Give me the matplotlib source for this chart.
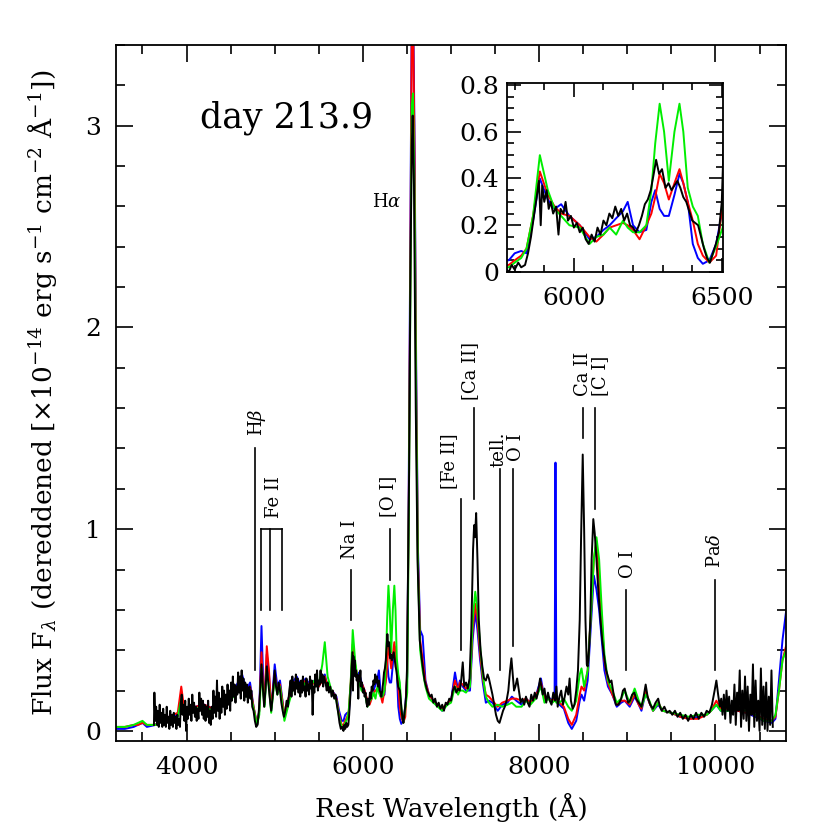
import numpy as np
import matplotlib
matplotlib.use('Agg')
import matplotlib.pyplot as plt
from matplotlib.ticker import MultipleLocator, FuncFormatter

plt.rcParams['font.family'] = ['DejaVu Serif']
plt.rcParams['mathtext.fontset'] = 'dejavuserif'

# ---------------- data ----------------
wl_col = [3200, 3300, 3400, 3450, 3500, 3550, 3650, 3700, 3800, 3900,
          3940, 3970, 4000, 4100, 4200, 4300, 4400, 4500, 4560, 4630,
          4680, 4720, 4760, 4800, 4825, 4850, 4870, 4885, 4910, 4935,
          4960, 5000, 5030, 5060, 5110, 5150, 5200, 5250, 5300, 5350,
          5400, 5450, 5500, 5540, 5568, 5600, 5650, 5700, 5730, 5760,
          5780, 5800, 5822, 5840, 5862, 5885, 5912, 5935, 5957, 5985,
          6020, 6053, 6076, 6100, 6121, 6143, 6166, 6182, 6200, 6222,
          6245, 6262, 6275, 6290, 6305, 6321, 6340, 6357, 6370, 6385,
          6402, 6419, 6436, 6458, 6481, 6503, 6520, 6540, 6555, 6568,
          6585, 6605, 6625, 6650, 6678, 6710, 6750, 6800, 6850, 6900,
          6960, 7000, 7045, 7080, 7100, 7133, 7170, 7215, 7245, 7275,
          7300, 7330, 7360, 7395, 7430, 7470, 7530, 7580, 7640, 7690,
          7740, 7800, 7850, 7900, 7960, 8020, 8060, 8100, 8150, 8175,
          8185, 8195, 8230, 8280, 8330, 8370, 8420, 8460, 8480, 8510,
          8550, 8590, 8620, 8650, 8680, 8710, 8740, 8780, 8830, 8880,
          8930, 8970, 9027, 9083, 9130, 9160, 9208, 9250, 9292, 9350,
          9400, 9500, 9600, 9700, 9800, 9900, 9950, 10010, 10060, 10150,
          10250, 10350, 10450, 10550, 10640, 10680, 10720, 10760, 10800, 10850]

blue_fl = [.01, .01, .02, .03, .04, .02, .03, .06, .07, .08,
           .14, .10, .08, .12, .13, .11, .15, .17, .22, .28,
           .20, .24, .12, .03, .10, .52, .25, .13, .38, .28,
           .10, .33, .22, .25, .07, .15, .24, .27, .22, .26,
           .23, .25, .22, .26, .28, .22, .20, .17, .10, .05,
           .05, .08, .09, .08, .22, .40, .31, .27, .29, .24,
           .20, .14, .15, .18, .20, .23, .26, .30, .20, .17,
           .18, .30, .35, .27, .24, .24, .33, .42, .38, .30,
           .12, .06, .035, .05, .12, .27, 1.2, 2.6, 3.6, 3.7,
           3.0, 1.8, .9, .5, .47, .25, .18, .15, .13, .10,
           .14, .15, .29, .20, .25, .22, .20, .20, .45, .59,
           .50, .35, .24, .14, .15, .14, .10, .13, .14, .17,
           .15, .13, .16, .14, .17, .26, .16, .17, .15, .18,
           1.33, .17, .13, .11, .04, .01, .05, .15, .18, .15,
           .25, .55, .77, .70, .60, .45, .30, .22, .18, .12,
           .14, .15, .12, .17, .13, .10, .19, .14, .10, .13,
           .10, .09, .07, .06, .07, .08, .10, .13, .10, .10,
           .10, .09, .07, .05, .04, .06, .25, .45, .59, .60]

red_fl = [.02, .02, .03, .03, .04, .03, .03, .06, .07, .09,
          .22, .12, .09, .12, .13, .11, .15, .17, .21, .25,
          .20, .22, .12, .03, .10, .39, .20, .14, .42, .30,
          .11, .28, .20, .23, .08, .15, .23, .25, .22, .25,
          .22, .24, .22, .25, .27, .22, .20, .16, .08, .03,
          .03, .05, .07, .10, .24, .43, .33, .28, .25, .24,
          .20, .15, .13, .16, .19, .20, .21, .20, .18, .14,
          .20, .25, .32, .42, .38, .31, .38, .44, .38, .30,
          .22, .12, .07, .04, .07, .29, 1.1, 2.4, 3.5, 3.6,
          2.9, 1.7, .85, .45, .35, .24, .18, .15, .13, .11,
          .14, .15, .25, .20, .24, .23, .21, .22, .50, .63,
          .55, .38, .26, .18, .17, .15, .12, .14, .15, .16,
          .16, .15, .16, .14, .17, .24, .16, .16, .15, .16,
          .17, .16, .14, .12, .06, .03, .08, .18, .22, .20,
          .30, .60, .85, .94, .75, .55, .35, .24, .18, .13,
          .15, .15, .13, .18, .13, .11, .20, .14, .10, .14,
          .10, .09, .07, .06, .06, .08, .10, .15, .11, .11,
          .10, .09, .08, .06, .05, .07, .20, .35, .42, .43]

green_fl = [.02, .02, .03, .04, .05, .03, .03, .05, .06, .07,
            .16, .09, .08, .11, .12, .10, .13, .15, .19, .24,
            .17, .20, .11, .03, .08, .31, .18, .12, .30, .22,
            .09, .26, .18, .22, .05, .12, .20, .23, .20, .24,
            .22, .25, .23, .33, .44, .27, .19, .15, .07, .02,
            .02, .04, .06, .10, .24, .50, .35, .27, .24, .20,
            .19, .12, .15, .16, .19, .16, .22, .19, .17, .17,
            .20, .35, .55, .72, .60, .39, .60, .72, .60, .36,
            .28, .24, .12, .04, .11, .19, 1.0, 2.2, 3.1, 3.16,
            2.7, 1.6, .8, .4, .3, .22, .16, .14, .12, .10,
            .13, .14, .22, .18, .20, .20, .19, .22, .55, .69,
            .60, .42, .28, .17, .14, .12, .13, .12, .13, .14,
            .12, .12, .15, .13, .16, .22, .14, .16, .14, .15,
            .15, .14, .14, .16, .12, .10, .15, .28, .31, .22,
            .30, .60, .85, .96, .85, .60, .38, .25, .20, .14,
            .16, .20, .14, .21, .15, .12, .18, .15, .10, .14,
            .10, .09, .08, .07, .08, .08, .10, .13, .10, .10,
            .11, .10, .08, .05, .05, .08, .20, .35, .40, .42]

black_wl = [3630, 3635, 3645, 3655, 3665, 3675, 3685, 3695, 3705, 3715,
            3725, 3735, 3745, 3755, 3765, 3775, 3785, 3795, 3805, 3815,
            3825, 3835, 3845, 3855, 3865, 3875, 3885, 3895, 3905, 3915,
            3925, 3935, 3945, 3955, 3965, 3975, 3985, 3995, 4005, 4015,
            4025, 4035, 4045, 4055, 4065, 4075, 4085, 4095, 4105, 4115,
            4125, 4135, 4145, 4155, 4165, 4175, 4185, 4195, 4205, 4215,
            4225, 4235, 4245, 4255, 4265, 4275, 4285, 4295, 4305, 4315,
            4325, 4335, 4345, 4355, 4365, 4375, 4385, 4395, 4405, 4415,
            4425, 4435, 4445, 4455, 4465, 4475, 4485, 4495, 4505, 4515,
            4525, 4535, 4545, 4555, 4565, 4575, 4585, 4595, 4605, 4615,
            4625, 4635, 4645, 4655, 4665, 4675, 4685, 4695, 4705, 4715,
            4725, 4735, 4745, 4760, 4775, 4790, 4805, 4820, 4835, 4850,
            4865, 4880, 4895, 4910, 4925, 4940, 4960, 4975, 4990, 5000,
            5015, 5030, 5045, 5060, 5075, 5090, 5105, 5120, 5135, 5150,
            5165, 5180, 5190, 5200, 5210, 5220, 5230, 5240, 5250, 5260,
            5270, 5280, 5290, 5300, 5310, 5320, 5330, 5340, 5350, 5360,
            5370, 5380, 5390, 5400, 5410, 5420, 5430, 5440, 5450, 5460,
            5470, 5480, 5490, 5500, 5510, 5520, 5530, 5540, 5550, 5560,
            5570, 5580, 5590, 5600, 5615, 5630, 5645, 5660, 5675, 5690,
            5705, 5720, 5735, 5750, 5765, 5780, 5790, 5800, 5812, 5822,
            5835, 5845, 5855, 5865, 5875, 5882, 5888, 5893, 5900, 5908,
            5915, 5922, 5930, 5940, 5948, 5955, 5965, 5972, 5980, 5990,
            6000, 6010, 6020, 6030, 6040, 6050, 6060, 6070, 6080, 6090,
            6100, 6110, 6120, 6130, 6140, 6150, 6160, 6170, 6180, 6190,
            6200, 6210, 6220, 6230, 6240, 6250, 6260, 6270, 6278, 6288,
            6298, 6310, 6320, 6330, 6340, 6350, 6360, 6370, 6380, 6390,
            6400, 6410, 6420, 6430, 6440, 6450, 6460, 6470, 6480, 6490,
            6500, 6510, 6525, 6540, 6555, 6565, 6580, 6600, 6620, 6645,
            6670, 6700, 6730, 6760, 6780, 6800, 6820, 6840, 6860, 6880,
            6900, 6920, 6940, 6960, 6980, 7000, 7020, 7040, 7060, 7080,
            7100, 7115, 7133, 7150, 7170, 7190, 7210, 7230, 7250, 7262,
            7272, 7285, 7300, 7315, 7335, 7355, 7375, 7395, 7415, 7430,
            7450, 7470, 7490, 7510, 7530, 7550, 7570, 7590, 7610, 7630,
            7650, 7670, 7685, 7700, 7715, 7730, 7750, 7770, 7790, 7810,
            7830, 7850, 7870, 7890, 7910, 7930, 7950, 7970, 7990, 8010,
            8025, 8040, 8060, 8080, 8100, 8120, 8140, 8160, 8180, 8195,
            8210, 8230, 8250, 8270, 8290, 8310, 8330, 8345, 8360, 8380,
            8400, 8420, 8440, 8460, 8475, 8494, 8510, 8525, 8540, 8550,
            8565, 8580, 8595, 8614, 8630, 8650, 8670, 8695, 8715, 8740,
            8760, 8780, 8800, 8820, 8845, 8870, 8900, 8930, 8950, 8970,
            8990, 9010, 9030, 9055, 9080, 9100, 9130, 9160, 9185, 9208,
            9230, 9260, 9290, 9320, 9350, 9370, 9390, 9420, 9450, 9480,
            9510, 9540, 9570, 9600, 9630, 9660, 9690, 9720, 9750, 9780,
            9810, 9840, 9870, 9900, 9930, 9960, 9990, 10010, 10030, 10050,
            10065, 10080, 10095, 10110, 10125, 10140, 10155, 10170, 10185, 10200,
            10215, 10230, 10245, 10260, 10275, 10290, 10305, 10320, 10335, 10350,
            10365, 10380, 10395, 10410, 10425, 10440, 10455, 10470, 10485, 10500,
            10515, 10530, 10545, 10560, 10575, 10590, 10605, 10620, 10635, 10650]

black_fl = [.03, .19, .05, .12, .03, .10, .02, .13, .04, .09,
            .02, .11, .03, .08, .02, .12, .04, .07, .01, .10,
            .03, .08, .02, .09, .04, .07, .01, .08, .03, .06,
            .02, .14, .18, .08, .13, .05, .15, .00, .12, .06,
            .16, .08, .13, .05, .18, .09, .14, .07, .12, .05,
            .11, .06, .19, .10, .16, .08, .15, .06, .13, .05,
            .12, .07, .15, .04, .10, .03, .12, .06, .20, .09,
            .17, .07, .25, .10, .19, .06, .16, .09, .22, .12,
            .20, .08, .18, .11, .23, .13, .20, .10, .24, .15,
            .27, .17, .23, .14, .22, .18, .29, .19, .27, .16,
            .30, .20, .26, .15, .24, .17, .23, .14, .21, .22,
            .16, .20, .12, .10, .05, .02, .03, .10, .20, .33,
            .22, .12, .20, .32, .25, .18, .10, .16, .24, .30,
            .22, .18, .24, .20, .14, .10, .07, .10, .15, .12,
            .20, .25, .17, .27, .20, .24, .18, .28, .21, .26,
            .19, .24, .17, .25, .19, .27, .20, .22, .17, .26,
            .20, .23, .18, .27, .21, .25, .08, .22, .19, .28,
            .22, .30, .20, .25, .23, .30, .24, .28, .22, .27,
            .25, .23, .20, .24, .19, .22, .17, .20, .16, .18,
            .13, .09, .04, .01, .02, .00, .03, .01, .04, .02,
            .03, .08, .15, .24, .33, .39, .20, .37, .30, .35,
            .27, .30, .25, .28, .16, .27, .25, .30, .22, .24,
            .19, .21, .17, .19, .14, .12, .16, .13, .19, .16,
            .22, .20, .25, .23, .28, .24, .27, .22, .25, .20,
            .19, .17, .20, .24, .29, .31, .35, .42, .48, .42,
            .44, .36, .38, .35, .37, .39, .36, .32, .30, .26,
            .22, .21, .20, .15, .10, .06, .04, .08, .12, .17,
            .30, .70, 1.3, 2.3, 2.9, 3.05, 2.7, 1.6, .85, .45,
            .35, .25, .20, .17, .18, .14, .16, .12, .14, .11,
            .13, .10, .14, .13, .16, .15, .20, .22, .19, .21,
            .20, .25, .34, .22, .24, .21, .26, .50, .90, 1.02,
            .96, 1.08, .85, .55, .40, .32, .26, .25, .28, .26,
            .22, .18, .13, .08, .05, .04, .07, .10, .12, .15,
            .20, .30, .36, .28, .20, .22, .26, .20, .14, .16,
            .13, .17, .14, .12, .18, .15, .19, .16, .20, .26,
            .22, .18, .21, .14, .19, .15, .13, .19, .15, .22,
            .12, .17, .20, .13, .17, .22, .18, .26, .15, .11,
            .13, .20, .30, .55, .95, 1.37, 1.0, .55, .33, .32,
            .40, .55, .85, 1.05, .98, .85, .70, .55, .45, .36,
            .30, .27, .24, .25, .18, .13, .13, .16, .20, .21,
            .17, .14, .15, .18, .19, .16, .14, .12, .17, .23,
            .17, .13, .11, .14, .16, .12, .10, .12, .09, .10,
            .08, .10, .07, .09, .06, .08, .05, .08, .06, .09,
            .06, .09, .07, .10, .09, .13, .20, .25, .18, .12,
            .16, .08, .18, .06, .20, .10, .17, .04, .15, .08,
            .23, .03, .19, .10, .30, .02, .20, .06, .27, .05,
            .22, .00, .18, .08, .33, .02, .25, .05, .15, .00,
            .31, .03, .22, .01, .24, .00, .17, .03, .30, .02]

# line identifications: label, line wavelength, line bottom/top flux
id_labels = [r'H$\beta$', 'Na I', '[O I]', '[Fe II]', '[Ca II]', 'tell.', 'O I',
             'Ca II', '[C I]', 'O I', r'Pa$\delta$']
id_line_wl = [4771, 5862, 6308, 7110, 7261, 7556, 7700, 8494, 8634, 8985, 9997]
id_line_lo = [0.30, 0.55, 0.75, 0.40, 1.15, 0.30, 0.42, 1.45, 1.10, 0.30, 0.30]
id_line_hi = [1.40, 0.80, 1.00, 1.15, 1.60, 1.30, 1.30, 1.60, 1.60, 0.70, 0.75]
id_text_wl = [4794, 5854, 6285, 6977, 7215, 7535, 7738, 8497, 8690, 9008, 9997]
id_text_fl = [1.46, 0.85, 1.06, 1.20, 1.64, 1.31, 1.34, 1.66, 1.66, 0.76, 0.81]

feii_wl = [4845, 4947, 5086]
feii_lo, feii_hi = 0.60, 1.00

colors = ['#0000ff', '#ff0000', '#00ee00']

# ---------------- figure ----------------
fig = plt.figure(figsize=(8.3, 8.3), dpi=100)
ax = fig.add_axes([0.1398, 0.1072, 0.8072, 0.8386])

for fl, c in zip([blue_fl, red_fl, green_fl], colors):
    ax.plot(wl_col, fl, color=c, lw=1.4)
ax.plot(black_wl, black_fl, color='black', lw=1.4)

ax.set_xlim(3200, 10800)
ax.set_ylim(-0.05, 3.4)
ax.xaxis.set_major_locator(MultipleLocator(2000))
ax.xaxis.set_minor_locator(MultipleLocator(500))
ax.yaxis.set_major_locator(MultipleLocator(1))
ax.yaxis.set_minor_locator(MultipleLocator(0.2))
ax.tick_params(which='both', direction='in', top=True, right=True, width=1.2,
               labelsize=18, pad=11)
ax.tick_params(which='major', length=12)
ax.tick_params(which='minor', length=6.5)
for s in ax.spines.values():
    s.set_linewidth(1.3)

ax.set_xlabel('Rest Wavelength (Å)', fontsize=19)
ax.xaxis.set_label_coords(0.5, -0.075)
ax.set_ylabel(r'Flux F$_\lambda$ (dereddened [$\times$10$^{-14}$ erg s$^{-1}$ cm$^{-2}$ Å$^{-1}$])',
              fontsize=19)
ax.yaxis.set_label_coords(-0.085, 0.5)

# identification marks
for lab, lw_, lo, hi, tw, tf in zip(id_labels, id_line_wl, id_line_lo, id_line_hi,
                                    id_text_wl, id_text_fl):
    ax.plot([lw_, lw_], [lo, hi], color='black', lw=1.2)
    ax.text(tw, tf, lab, rotation=90, ha='center', va='bottom', fontsize=13)
for w in feii_wl:
    ax.plot([w, w], [feii_lo, feii_hi], color='black', lw=1.2)
ax.plot([feii_wl[0], feii_wl[-1]], [feii_hi, feii_hi], color='black', lw=1.2)
ax.text(4987, 1.056, 'Fe II', rotation=90, ha='center', va='bottom', fontsize=13)
ax.text(6270, 2.62, r'H$\alpha$', ha='center', va='center', fontsize=13)
ax.text(0.255, 0.882, 'day 213.9', transform=ax.transAxes, ha='center',
        va='baseline', fontsize=25)

# inset
axin = fig.add_axes([0.6112, 0.6723, 0.2602, 0.2281])
for fl, c in zip([blue_fl, red_fl, green_fl], colors):
    axin.plot(wl_col, fl, color=c, lw=1.4)
axin.plot(black_wl, black_fl, color='black', lw=1.4)
axin.set_xlim(5775, 6505)
axin.set_ylim(0, 0.81)
axin.xaxis.set_major_locator(MultipleLocator(500))
axin.xaxis.set_minor_locator(MultipleLocator(100))
axin.yaxis.set_major_locator(MultipleLocator(0.2))
axin.yaxis.set_minor_locator(MultipleLocator(0.05))
axin.yaxis.set_major_formatter(FuncFormatter(lambda v, p: '0' if abs(v) < 1e-9 else f'{v:.1f}'))
axin.tick_params(which='both', direction='in', top=True, right=True, width=1.2,
                 labelsize=18)
axin.tick_params(axis='x', pad=11)
axin.tick_params(axis='y', pad=6)
axin.tick_params(which='major', length=10)
axin.tick_params(which='minor', length=5)
for s in axin.spines.values():
    s.set_linewidth(1.3)

fig.savefig('out.png', dpi=100)
